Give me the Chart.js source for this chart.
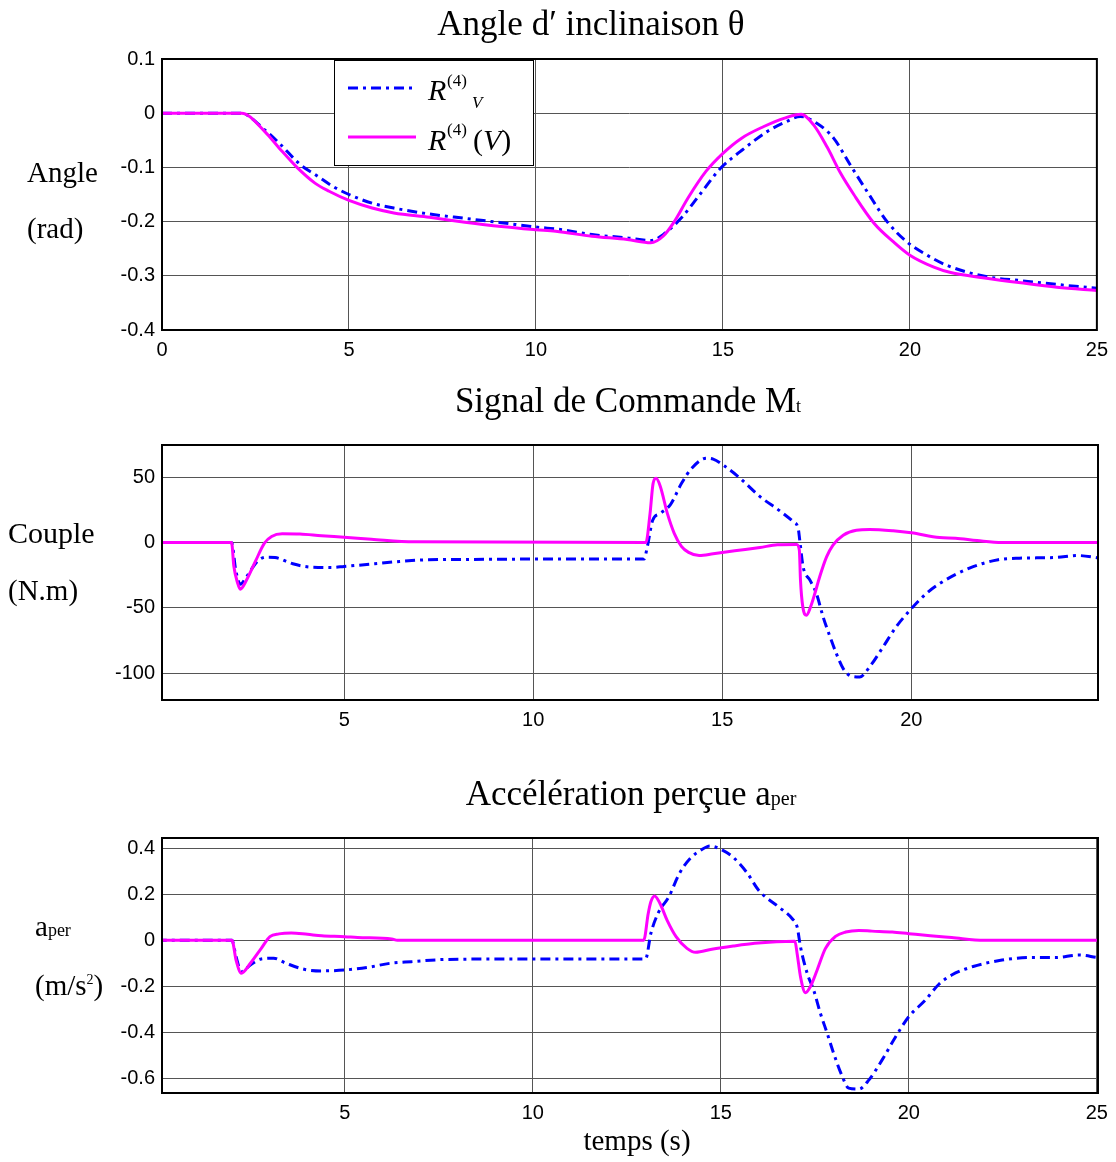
<!DOCTYPE html>
<html>
<head>
<meta charset="utf-8">
<script src="https://cdn.jsdelivr.net/npm/chart.js@4.4.1/dist/chart.umd.min.js"></script>
<style>
  body { margin: 0; background: #fff; }
  #page { position: relative; width: 1116px; height: 1162px; overflow: hidden; background: #fff; }
  canvas { position: absolute; left: 0; }
  #overlay { position: absolute; left: 0; top: 0; pointer-events: none; }
</style>
</head>
<body>
<div id="page">
  <canvas id="angleChart" width="1116" height="330" style="top:40px"></canvas>
  <canvas id="coupleChart" width="1116" height="320" style="top:420px"></canvas>
  <canvas id="accelChart" width="1116" height="318" style="top:815px"></canvas>

  <svg id="overlay" width="1116" height="1162" font-family="'Liberation Serif', serif">
    <!-- titles -->
    <text x="591" y="35" font-size="35" text-anchor="middle">Angle d′ inclinaison θ</text>
    <text x="628" y="412" font-size="35" text-anchor="middle">Signal de Commande M<tspan font-size="18">t</tspan></text>
    <text x="631" y="805" font-size="35" text-anchor="middle">Accélération perçue a<tspan font-size="20">per</tspan></text>
    <!-- y axis labels -->
    <text x="27" y="182" font-size="29">Angle</text>
    <text x="27" y="238" font-size="29">(rad)</text>
    <text x="8" y="543" font-size="30">Couple</text>
    <text x="8" y="600" font-size="29">(N.m)</text>
    <text x="35" y="936" font-size="29">a<tspan font-size="18">per</tspan></text>
    <text x="35" y="995" font-size="29">(m/s<tspan font-size="14" dy="-11">2</tspan><tspan dy="11">)</tspan></text>
    <text x="637" y="1150" font-size="29" text-anchor="middle">temps (s)</text>
    <!-- legend -->
    <rect x="334.5" y="60.5" width="199" height="105" fill="#fff" stroke="#000" stroke-width="1"/>
    <line x1="348" y1="88" x2="416" y2="88" stroke="#0000ff" stroke-width="3" stroke-dasharray="10 5 3 5"/>
    <line x1="348" y1="137" x2="416" y2="137" stroke="#ff00ff" stroke-width="3"/>
    <text x="428" y="100" font-size="30" font-style="italic">R</text>
    <text x="447" y="86" font-size="17">(4)</text>
    <text x="472" y="108" font-size="17" font-style="italic">V</text>
    <text x="428" y="150" font-size="30" font-style="italic">R</text>
    <text x="447" y="135" font-size="17">(4)</text>
    <text x="473" y="150" font-size="30">(<tspan font-style="italic">V</tspan>)</text>
  </svg>
</div>

<script>
// ---- Angle d'inclinaison (rad) ----
const tAngleV = [0, 2.1, 2.75, 3.13, 3.7, 4.09, 4.57, 5, 5.62, 6.2, 7.15, 8.1, 9.07, 10, 10.7, 11.5, 12.44, 13.07, 13.4, 13.89,
                 14.36, 14.93, 15.46, 16.18, 16.71, 17.07, 17.52, 17.96, 18.41, 18.86, 19.39, 19.93, 20.46, 21.0, 22, 22.97, 23.93, 25];
const angleV = [0, 0, -0.031, -0.055, -0.095, -0.113, -0.135, -0.15, -0.166, -0.175, -0.186, -0.194, -0.202, -0.21, -0.215, -0.224, -0.23, -0.235, -0.224, -0.193,
                -0.152, -0.102, -0.071, -0.034, -0.015, -0.006, -0.019, -0.046, -0.096, -0.145, -0.2, -0.238, -0.262, -0.281, -0.301, -0.309, -0.316, -0.323];
const tAngleM = [0, 2.13, 2.75, 3.13, 3.61, 4.09, 4.47, 5, 5.62, 6.2, 7.15, 8.1, 9.07, 10, 10.53, 11.5, 12.44, 13.07, 13.4, 13.7,
                 14.07, 14.55, 15, 15.5, 16.08, 16.65, 17.09, 17.43, 17.79, 18.14, 18.5, 19.04, 19.57, 20, 20.64, 21.09, 22, 22.97, 23.93, 25];
const angleM = [0, 0, -0.034, -0.064, -0.1, -0.129, -0.144, -0.161, -0.175, -0.184, -0.192, -0.201, -0.209, -0.215, -0.218, -0.227, -0.233, -0.239, -0.227, -0.2,
                -0.156, -0.107, -0.074, -0.046, -0.025, -0.009, -0.002, -0.022, -0.063, -0.11, -0.15, -0.203, -0.238, -0.262, -0.284, -0.294, -0.304, -0.313, -0.321, -0.327];

// ---- Couple (N.m) ----
const tCoupleV = [0, 2.02, 2.13, 2.25, 2.42, 2.7, 2.93, 3.17, 3.64, 4.11, 4.68, 5, 5.81, 6.47, 7.23, 8.17, 10, 12.93, 13.02, 13.16,
                  13.35, 13.63, 13.92, 14.2, 14.58, 14.76, 15.05, 15.42, 16.0, 16.53, 16.88, 17.01, 17.05, 17.14, 17.32, 17.49, 17.67, 17.85, 18.02, 18.2,
                  18.42, 18.64, 18.9, 19.25, 19.6, 19.96, 20.4, 20.75, 21.54, 22.3, 22.86, 23.8, 24.42, 25];
const coupleV = [0, 0, -21, -32, -26, -14.5, -11.2, -11.5, -16.3, -18.8, -19.1, -18.3, -16.3, -14.5, -13.2, -13, -12.7, -12.7, -3, 17,
                 22, 29, 45, 57, 64.4, 63.7, 58.6, 50.4, 35, 24, 15.8, 10.7, 1.8, -18.6, -28.8, -39, -57, -72, -85, -96.4,
                 -102.3, -102.8, -95, -80, -64.5, -52, -39, -31.4, -19.6, -13.2, -12, -11.5, -10, -12];
const tCoupleM = [0, 2.02, 2.08, 2.18, 2.25, 2.42, 2.65, 2.89, 3.08, 3.36, 3.83, 4.4, 5, 5.72, 6.85, 12.98, 13.09, 13.17, 13.25, 13.36,
                  13.55, 13.73, 13.92, 14.11, 14.39, 14.76, 15.33, 16.0, 16.46, 16.97, 17.04, 17.07, 17.13, 17.23, 17.34, 17.45, 17.58, 17.76, 17.93, 18.2,
                  18.55, 18.9, 19.52, 20, 20.75, 21.17, 21.74, 22.4, 25];
const coupleM = [0, 0, -18, -31, -35.7, -28.5, -14.5, -0.5, 4.6, 6.6, 6.4, 5.1, 4, 2.5, 0.5, 0, 22, 45, 49, 43,
                 22, 7, -3, -7.6, -10, -8.7, -6.4, -3.8, -1.8, -1.5, -6, -29, -49, -55.6, -49, -39, -26, -11, -2, 5.6,
                 9.4, 9.9, 8.9, 7.4, 3.8, 3.3, 1.5, 0, 0];

// ---- Acceleration percue (m/s2) ----
const tAccelV = [0, 2.0, 2.11, 2.25, 2.49, 2.78, 3.11, 3.44, 3.92, 4.39, 5, 5.63, 6.2, 6.77, 7.72, 10, 13.0, 13.14, 13.33, 13.62,
                 13.9, 14.19, 14.48, 14.71, 15, 15.33, 15.71, 16.01, 16.54, 16.9, 17.03, 17.12, 17.3, 17.47, 17.65, 17.83, 18.0, 18.23, 18.4, 18.67,
                 18.94, 19.29, 19.65, 20, 20.44, 20.8, 21.14, 21.71, 22.48, 23.24, 23.9, 24.52, 25];
const accelV = [0, 0, -0.071, -0.136, -0.107, -0.081, -0.078, -0.1, -0.126, -0.133, -0.129, -0.117, -0.1, -0.093, -0.083, -0.081, -0.081, 0.03, 0.117, 0.19,
                0.291, 0.357, 0.393, 0.41, 0.396, 0.361, 0.291, 0.217, 0.145, 0.094, 0.058, -0.029, -0.145, -0.217, -0.318, -0.405, -0.491, -0.592, -0.643, -0.647,
                -0.607, -0.52, -0.419, -0.332, -0.26, -0.191, -0.151, -0.114, -0.086, -0.075, -0.075, -0.064, -0.074];
const tAccelM = [0, 2.0, 2.11, 2.25, 2.49, 2.78, 3.01, 3.25, 3.58, 4.01, 4.39, 5, 5.34, 6.25, 6.4, 12.95, 13.07, 13.14, 13.24, 13.38,
                 13.57, 13.81, 14.1, 14.33, 14.76, 15.33, 15.9, 16.48, 16.97, 17.03, 17.12, 17.25, 17.38, 17.56, 17.78, 18.05, 18.32, 18.67, 19.02, 19.56,
                 20, 20.57, 21.14, 22, 25];
const accelM = [0, 0, -0.086, -0.143, -0.1, -0.035, 0.016, 0.028, 0.032, 0.026, 0.02, 0.016, 0.012, 0.006, 0, 0, 0.117, 0.168, 0.193, 0.161,
                0.088, 0.016, -0.035, -0.052, -0.039, -0.025, -0.013, -0.006, -0.004, -0.058, -0.159, -0.228, -0.202, -0.13, -0.036, 0.017, 0.036, 0.043, 0.04, 0.036,
                0.029, 0.02, 0.012, 0, 0];

// Tick labels
const angleYTicks = [-0.4, -0.3, -0.2, -0.1, 0, 0.1];
const angleXTicks = [0, 5, 10, 15, 20, 25];
const coupleYTicks = [-100, -50, 0, 50];
const coupleXTicks = [5, 10, 15, 20];
const accelYTicks = [-0.6, -0.4, -0.2, 0, 0.2, 0.4];
const accelXTicks = [5, 10, 15, 20, 25];

// Styles
const BLUE = '#0000ff';
const MAGENTA = '#ff00ff';
const GRID = '#555555';
const TICK_FONT = { family: "'Liberation Sans', Arial, sans-serif", size: 20 };

const zip = (t, v) => t.map((x, i) => ({ x: x, y: v[i] }));

// Box around the plot area
const frame = {
    id: 'frame',
    afterDatasetsDraw(chart) {
        const { ctx, chartArea: a } = chart;
        ctx.save();
        ctx.strokeStyle = '#000';
        ctx.lineWidth = 2;
        ctx.strokeRect(a.left, a.top, a.right - a.left, a.bottom - a.top);
        ctx.restore();
    }
};

function makeChart(id, blue, magenta, xr, xTicks, yr, yTicks, padTop) {
    return new Chart(document.getElementById(id), {
        type: 'line',
        data: {
            datasets: [
                { label: 'R(4)V', data: blue, borderColor: BLUE, borderWidth: 3, borderDash: [10, 5, 3, 5],
                  pointRadius: 0, cubicInterpolationMode: 'monotone', fill: false, order: 2 },
                { label: 'R(4)(V)', data: magenta, borderColor: MAGENTA, borderWidth: 3,
                  pointRadius: 0, cubicInterpolationMode: 'monotone', fill: false, order: 1 }
            ]
        },
        options: {
            responsive: false,
            animation: false,
            layout: { padding: { top: padTop, right: 18, left: 0, bottom: 0 } },
            plugins: { legend: { display: false }, tooltip: { enabled: false } },
            scales: {
                x: {
                    type: 'linear', min: xr[0], max: xr[1],
                    afterBuildTicks: s => { s.ticks = xTicks.map(v => ({ value: v })); },
                    afterFit: s => { s.height = 40; },
                    grid: { color: GRID, lineWidth: 1, drawTicks: false },
                    border: { display: false },
                    ticks: { padding: 8, font: TICK_FONT, color: '#000', autoSkip: false, maxRotation: 0,
                             callback: v => String(v) }
                },
                y: {
                    type: 'linear', min: yr[0], max: yr[1],
                    afterBuildTicks: s => { s.ticks = yTicks.map(v => ({ value: v })); },
                    afterFit: s => { s.width = 162; },
                    grid: { color: GRID, lineWidth: 1, drawTicks: false },
                    border: { display: false },
                    ticks: { padding: 7, font: TICK_FONT, color: '#000', autoSkip: false,
                             callback: v => String(v) }
                }
            }
        },
        plugins: [frame]
    });
}

makeChart('angleChart', zip(tAngleV, angleV), zip(tAngleM, angleM), [0, 25], angleXTicks, [-0.4, 0.1], angleYTicks, 18);
makeChart('coupleChart', zip(tCoupleV, coupleV), zip(tCoupleM, coupleM), [0.18, 24.94], coupleXTicks, [-120.4, 74.5], coupleYTicks, 25);
makeChart('accelChart', zip(tAccelV, accelV), zip(tAccelM, accelM), [0.14, 25.03], accelXTicks, [-0.664, 0.445], accelYTicks, 23);
</script>
</body>
</html>
